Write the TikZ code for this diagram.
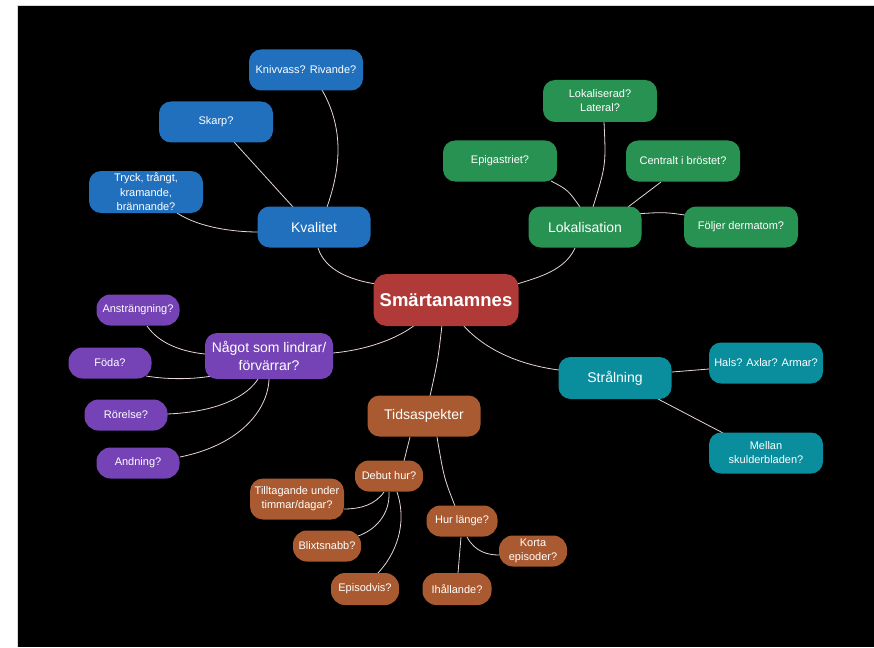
\documentclass[tikz,border=0pt]{standalone}
\usepackage{fontspec}
\setmainfont{Liberation Sans}
\usetikzlibrary{calc}
\pgfdeclarelayer{canvas}
\pgfdeclarelayer{background}
\pgfsetlayers{canvas,background,main}

\definecolor{cblue}{RGB}{33,112,190}
\definecolor{cgreen}{RGB}{40,146,82}
\definecolor{cpurple}{RGB}{117,67,182}
\definecolor{cteal}{RGB}{10,142,158}
\definecolor{cbrown}{RGB}{169,90,49}
\definecolor{cred}{RGB}{176,58,55}
\definecolor{cline}{RGB}{232,214,214}

\tikzset{
  box/.style={rectangle, inner sep=0pt, align=center, text=white,
    minimum width=113pt, minimum height=41pt, rounded corners=12pt},
  hub/.style={box, font=\fontsize{14}{17}\selectfont},
  leaf/.style={box, minimum width=114pt, font=\fontsize{11}{14}\selectfont},
  pill/.style={box, minimum width=68pt, minimum height=31pt, rounded corners=14pt,
    font=\fontsize{11}{14}\selectfont},
  link/.style={draw=cline, line width=0.8pt},
}

\begin{document}
\begin{tikzpicture}[x=1pt,y=-1pt]
  \useasboundingbox (0,0) rectangle (874,647);
  \begin{pgfonlayer}{canvas}
    \fill[white] (0,0) rectangle (874,647);
    \fill[black] (17,5) rectangle (874,647);
    \draw[black!15, line width=0.6pt] (17,647) -- (17,5) -- (874,5);
  \end{pgfonlayer}

  % centre
  \node[box, fill=cred, minimum width=145pt, minimum height=52pt, rounded corners=13pt,
        font=\fontsize{18.5}{22}\selectfont\bfseries] (cent) at (446,300) {Smärtanamnes};

  % Kvalitet branch
  \node[hub, fill=cblue] (kval) at (314,227) {Kvalitet};
  \node[leaf, fill=cblue] (kniv) at (306,70) {Knivvass? Rivande?};
  \node[leaf, fill=cblue] (skarp) at (216,122) {Skarp?};
  \node[leaf, fill=cblue, minimum height=42pt, font=\fontsize{11}{14.5}\selectfont] (tryck) at (146,192)
        {Tryck, trångt,\\kramande,\\brännande?};

  % Lokalisation branch
  \node[hub, fill=cgreen] (lok) at (585,227) {Lokalisation};
  \node[leaf, fill=cgreen, minimum height=42pt] (lokal) at (600,101) {Lokaliserad?\\Lateral?};
  \node[leaf, fill=cgreen] (epig) at (500,161) {Epigastriet?};
  \node[leaf, fill=cgreen] (centr) at (683,161) {Centralt i bröstet?};
  \node[leaf, fill=cgreen] (foljer) at (741,227) {Följer dermatom?};

  % Lindrar / förvärrar branch
  \node[hub, fill=cpurple, minimum width=128pt, minimum height=46pt,
        font=\fontsize{14}{18}\selectfont] (nagot) at (269,356) {Något som lindrar/\\förvärrar?};
  \node[pill, fill=cpurple, minimum width=83pt] (anstr) at (138,310) {Ansträngning?};
  \node[pill, fill=cpurple, minimum width=83pt] (foda) at (110,363) {Föda?};
  \node[pill, fill=cpurple, minimum width=83pt] (rorel) at (126,415) {Rörelse?};
  \node[pill, fill=cpurple, minimum width=83pt] (andn) at (138,463) {Andning?};

  % Strålning branch
  \node[hub, fill=cteal, minimum height=42pt] (stral) at (615,378) {Strålning};
  \node[leaf, fill=cteal] (hals) at (766,363) {Hals? Axlar? Armar?};
  \node[leaf, fill=cteal] (mellan) at (766,453) {Mellan\\skulderbladen?};

  % Tidsaspekter branch
  \node[hub, fill=cbrown] (tids) at (424,416) {Tidsaspekter};
  \node[pill, fill=cbrown] (debut) at (389,476) {Debut hur?};
  \node[pill, fill=cbrown, minimum width=94pt, minimum height=41pt, rounded corners=13pt] (tillt) at (297,499)
        {Tilltagande under\\timmar/dagar?};
  \node[pill, fill=cbrown] (blixt) at (327,546) {Blixtsnabb?};
  \node[pill, fill=cbrown, minimum height=32pt] (episod) at (365,589) {Episodvis?};
  \node[pill, fill=cbrown, minimum width=71pt] (hurl) at (462,521) {Hur länge?};
  \node[pill, fill=cbrown] (korta) at (533,551) {Korta\\episoder?};
  \node[pill, fill=cbrown, minimum width=69pt, minimum height=32pt] (ihall) at (457,589) {Ihållande?};

  \begin{pgfonlayer}{background}
    % main branches
    \draw[link] ($(kval)+(4,21)$) .. controls (325,270) and (350,280) .. ($(cent)+(-70,-16)$);
    \draw[link] ($(lok)+(-10,21)$) .. controls (565,270) and (540,277) .. ($(cent)+(71,-16)$);
    \draw[link] ($(nagot)+(64,-3)$) .. controls (365,350) and (395,340) .. ($(cent)+(-31,25)$);
    \draw[link] ($(cent)+(-4,25)$) .. controls (438,360) .. ($(tids)+(6,-20)$);
    \draw[link] ($(cent)+(17,25)$) .. controls (485,350) and (520,365) .. ($(stral)+(-56,-8)$);
    % Kvalitet
    \draw[link] ($(kniv)+(16,20)$) .. controls (345,130) and (340,170) .. ($(kval)+(13,-20)$);
    \draw[link] ($(skarp)+(18,20)$) -- ($(kval)+(-21,-20)$);
    \draw[link] ($(tryck)+(31,21)$) .. controls (200,228) and (235,232) .. ($(kval)+(-56,5)$);
    % Lokalisation
    \draw[link] ($(lokal)+(4,21)$) .. controls (606,165) .. ($(lok)+(8,-20)$);
    \draw[link] ($(epig)+(51,20)$) .. controls (568,190) .. ($(lok)+(-5,-20)$);
    \draw[link] ($(centr)+(-22,21)$) -- ($(lok)+(43,-20)$);
    \draw[link] ($(lok)+(50,-13)$) .. controls (665,212) .. ($(foljer)+(-50,-11)$);
    % Lindrar / förvärrar
    \draw[link] ($(anstr)+(9,16)$) .. controls (160,345) and (185,352) .. ($(nagot)+(-64,-2)$);
    \draw[link] ($(foda)+(36,13)$) .. controls (170,380) and (195,379) .. ($(nagot)+(-57,20)$);
    \draw[link] ($(rorel)+(41,-1)$) .. controls (220,412) and (248,395) .. ($(nagot)+(-11,23)$);
    \draw[link] ($(andn)+(42,-6)$) .. controls (240,445) and (268,410) .. ($(nagot)+(0,23)$);
    % Strålning
    \draw[link] ($(stral)+(57,-6)$) -- ($(hals)+(-57,6)$);
    \draw[link] ($(stral)+(43,21)$) -- ($(mellan)+(-43,-20)$);
    % Tidsaspekter
    \draw[link] ($(tids)+(-14,21)$) -- ($(debut)+(15,-15)$);
    \draw[link] ($(tids)+(13,21)$) .. controls (444,478) .. ($(hurl)+(-7,-15)$);
    \draw[link] ($(debut)+(-5,16)$) .. controls (375,505) and (360,509) .. ($(tillt)+(47,10)$);
    \draw[link] ($(debut)+(0,16)$) .. controls (390,515) and (375,530) .. ($(blixt)+(31,-10)$);
    \draw[link] ($(debut)+(8,16)$) .. controls (408,525) and (395,555) .. ($(episod)+(13,-16)$);
    \draw[link] ($(hurl)+(5,16)$) .. controls (475,552) and (488,555) .. ($(korta)+(-34,4)$);
    \draw[link] ($(hurl)+(-1,16)$) -- ($(ihall)+(1,-16)$);
  \end{pgfonlayer}
\end{tikzpicture}
\end{document}
